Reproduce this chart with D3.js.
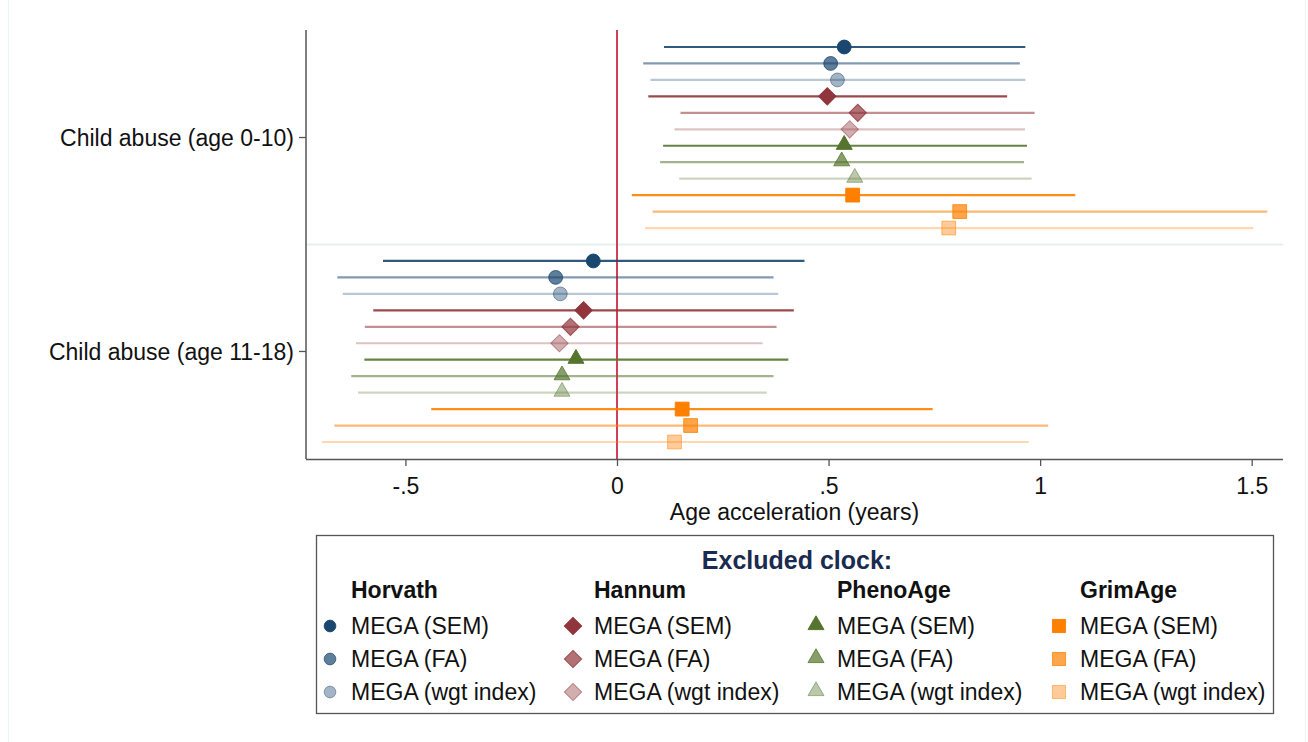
<!DOCTYPE html>
<html lang="en">
<head>
<meta charset="UTF-8" />
<title>Age acceleration forest plot</title>
<script src="https://d3js.org/d3.v7.min.js"></script>
<style>
  body { margin: 0; background: #fff; }
  svg { display: block; font-family: "Liberation Sans", Arial, sans-serif; }
</style>
</head>
<body>
<div id="chart"></div>
<script>
// --- data ---
const groups = ["Child abuse (age 0-10)", "Child abuse (age 11-18)"];
const clocks = ["Horvath", "Hannum", "PhenoAge", "GrimAge"];
const methods = ["MEGA (SEM)", "MEGA (FA)", "MEGA (wgt index)"];
const xTicks = [-0.5, 0, 0.5, 1, 1.5];
const xTickLabels = ["-.5", "0", ".5", "1", "1.5"];

// rows in order: clock x method, per group
const est0 = [0.537, 0.505, 0.521, 0.497, 0.569, 0.550, 0.537, 0.531, 0.562, 0.557, 0.810, 0.784];
const lo0  = [0.111, 0.062, 0.079, 0.074, 0.150, 0.136, 0.109, 0.102, 0.147, 0.035, 0.084, 0.066];
const hi0  = [0.965, 0.952, 0.965, 0.922, 0.987, 0.964, 0.969, 0.962, 0.980, 1.083, 1.537, 1.504];

const est1 = [-0.056, -0.145, -0.134, -0.079, -0.110, -0.136, -0.097, -0.130, -0.130, 0.154, 0.174, 0.136];
const lo1  = [-0.553, -0.661, -0.648, -0.576, -0.596, -0.617, -0.597, -0.628, -0.612, -0.439, -0.668, -0.697];
const hi1  = [0.443, 0.370, 0.381, 0.418, 0.377, 0.344, 0.405, 0.370, 0.354, 0.746, 1.019, 0.973];

const clockColors = ["#1a476f", "#90353b", "#55752f", "#ff7f00"];
const methodOpacity = [1, 0.7, 0.4];

const width = 1308, height = 742;
const plotLeft = 306, plotRight = 1283, plotTop = 30, plotBottom = 459;
const fontSize = 23;

// build rows
const rows = [];
[[est0, lo0, hi0], [est1, lo1, hi1]].forEach(([e, l, h], g) => {
  e.forEach((v, i) => {
    rows.push({
      group: g, clock: Math.floor(i / 3), method: i % 3,
      est: v, lo: l[i], hi: h[i],
      slot: g * 13 + i
    });
  });
});

const x = d3.scaleLinear().domain([-0.735, 1.574]).range([plotLeft, plotRight]);
const y = d3.scaleLinear().domain([0, 24]).range([47, 442]);

const svg = d3.select("#chart").append("svg")
  .attr("width", width).attr("height", height);

// faint outer frame
svg.append("rect").attr("x", 8.5).attr("y", -2).attr("width", 1297).attr("height", 746)
  .attr("fill", "none").attr("stroke", "#eef3f6");

// separator between groups
svg.append("line")
  .attr("x1", plotLeft).attr("x2", plotRight)
  .attr("y1", y(12)).attr("y2", y(12))
  .attr("stroke", "#e6eff1").attr("stroke-width", 2);

// zero line
svg.append("line")
  .attr("x1", x(0)).attr("x2", x(0))
  .attr("y1", plotTop).attr("y2", plotBottom)
  .attr("stroke", "#c8102e").attr("stroke-width", 1.6);

// CI lines
svg.append("g").selectAll("line").data(rows).join("line")
  .attr("x1", d => x(d.lo)).attr("x2", d => x(d.hi))
  .attr("y1", d => y(d.slot)).attr("y2", d => y(d.slot))
  .attr("stroke", d => clockColors[d.clock])
  .attr("stroke-opacity", d => [0.9, 0.55, 0.3][d.method])
  .attr("stroke-width", 2.2);

// marker shapes per clock
function markerPath(clock) {
  if (clock === 0) return d3.symbol(d3.symbolCircle, 150)();
  if (clock === 1) return d3.symbol(d3.symbolSquare, 150)();
  if (clock === 2) return d3.symbol(d3.symbolTriangle, 110)();
  return d3.symbol(d3.symbolSquare, 190)();
}
function markerTransform(clock, cx, cy) {
  if (clock === 1) return `translate(${cx},${cy}) rotate(45)`;
  if (clock === 2) return `translate(${cx},${cy - 1})`;
  return `translate(${cx},${cy})`;
}

svg.append("g").selectAll("path").data(rows).join("path")
  .attr("d", d => markerPath(d.clock))
  .attr("transform", d => markerTransform(d.clock, x(d.est), y(d.slot)))
  .attr("fill", d => clockColors[d.clock])
  .attr("fill-opacity", d => methodOpacity[d.method])
  .attr("stroke", d => clockColors[d.clock])
  .attr("stroke-opacity", d => [1, 0.8, 0.5][d.method])
  .attr("stroke-width", 1);

// axes
const xAxis = d3.axisBottom(x).tickValues(xTicks)
  .tickFormat((d, i) => xTickLabels[i]).tickSize(7).tickPadding(12);
const gx = svg.append("g").attr("transform", `translate(0,${plotBottom})`).call(xAxis);
gx.select(".domain").attr("d", `M${plotLeft},0.5H${plotRight}`).attr("stroke", "#555").attr("stroke-width", 1.5);
gx.selectAll(".tick line").attr("stroke", "#555").attr("stroke-width", 1.3);
gx.selectAll(".tick text").attr("font-size", fontSize).attr("fill", "#111")
  .attr("font-family", "'Liberation Sans', Arial, sans-serif");

svg.append("line")
  .attr("x1", plotLeft).attr("x2", plotLeft)
  .attr("y1", plotTop).attr("y2", plotBottom)
  .attr("stroke", "#555").attr("stroke-width", 1.5);

const groupY = [(y(5) + y(6)) / 2, (y(18) + y(19)) / 2];
groups.forEach((g, i) => {
  svg.append("line")
    .attr("x1", plotLeft - 7).attr("x2", plotLeft)
    .attr("y1", groupY[i]).attr("y2", groupY[i])
    .attr("stroke", "#555").attr("stroke-width", 1.3);
  svg.append("text")
    .attr("x", plotLeft - 12).attr("y", groupY[i]).attr("dy", "0.35em")
    .attr("text-anchor", "end").attr("font-size", fontSize).attr("fill", "#111")
    .text(g);
});

svg.append("text")
  .attr("x", (x(-0.735) + x(1.574)) / 2).attr("y", 520)
  .attr("text-anchor", "middle").attr("font-size", fontSize).attr("fill", "#111")
  .text("Age acceleration (years)");

// legend
const lg = svg.append("g");
lg.append("rect").attr("x", 316.5).attr("y", 535.5).attr("width", 957).attr("height", 178)
  .attr("fill", "#fff").attr("stroke", "#555").attr("stroke-width", 1.3);
lg.append("text").attr("x", 797).attr("y", 569).attr("text-anchor", "middle")
  .attr("font-size", 25).attr("font-weight", "bold").attr("fill", "#1a2a50")
  .text("Excluded clock:");

const colX = [330, 573, 816, 1059];
const rowY = [626, 659, 692];
clocks.forEach((c, ci) => {
  lg.append("text").attr("x", colX[ci] + 21).attr("y", 598)
    .attr("font-size", fontSize).attr("font-weight", "bold").attr("fill", "#111").text(c);
  methods.forEach((m, mi) => {
    lg.append("path")
      .attr("d", markerPath(ci))
      .attr("transform", markerTransform(ci, colX[ci], rowY[mi]) + (ci === 0 ? " scale(0.85)" : ci === 3 ? " scale(0.95)" : ""))
      .attr("fill", clockColors[ci])
      .attr("fill-opacity", methodOpacity[mi])
      .attr("stroke", clockColors[ci])
      .attr("stroke-opacity", [1, 0.8, 0.5][mi]);
    lg.append("text").attr("x", colX[ci] + 21).attr("y", rowY[mi]).attr("dy", "0.35em")
      .attr("font-size", fontSize).attr("fill", "#111").text(m);
  });
});
</script>
</body>
</html>
